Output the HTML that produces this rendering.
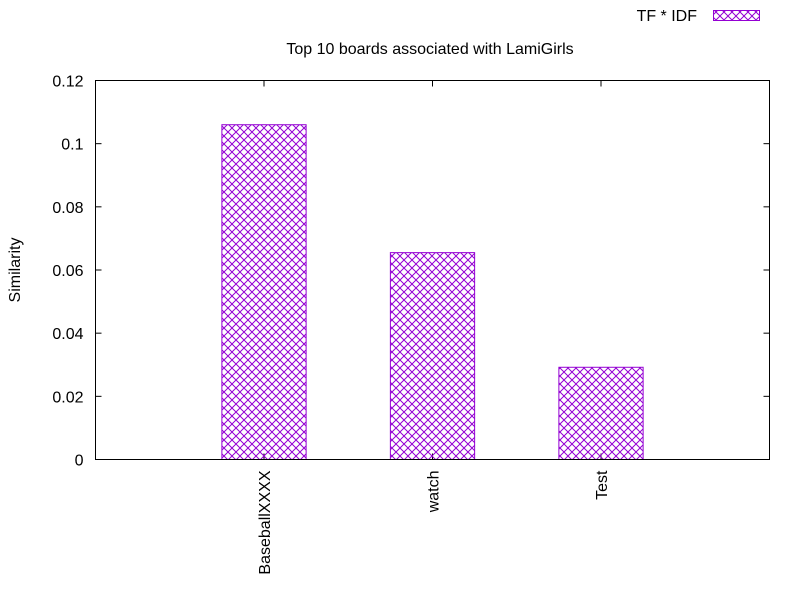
<!DOCTYPE html>
<html><head><meta charset="utf-8"><style>
body{margin:0;background:#fff}
svg text{font-family:"Liberation Sans",sans-serif;font-size:16px;fill:#000}
</style></head><body>
<svg id="chart" width="800" height="600" xmlns="http://www.w3.org/2000/svg">
<defs>
<pattern id="hatch" width="8" height="8" patternUnits="userSpaceOnUse">
<path d="M0,0 L8,8 M8,0 L0,8" stroke="#9400d3" stroke-width="1"/>
</pattern>
</defs>
<rect x="0" y="0" width="800" height="600" fill="#fff"/>
<text x="430" y="54" text-anchor="middle">Top 10 boards associated with LamiGirls</text>
<text x="20" y="270" text-anchor="middle" transform="rotate(-90 20 270)">Similarity</text>
<g>
<text x="697" y="21" text-anchor="end">TF * IDF</text>
<rect x="713.5" y="10.5" width="46" height="10" fill="url(#hatch)" stroke="#9400d3"/>
</g>
<g id="ticks"></g>
<g id="bars"></g>
<rect x="95.5" y="80.5" width="674" height="379" fill="none" stroke="#000"/>
</svg>
<script>
const categories=["BaseballXXXX","watch","Test"];
const values=[0.106,0.0655,0.0292];
const yTicks=[0,0.02,0.04,0.06,0.08,0.1,0.12];
const yTickLabels=["0","0.02","0.04","0.06","0.08","0.1","0.12"];
const L=95.5,R=769.5,T=80.5,B=459.5;
const yScale=v=>B-(v/0.12)*(B-T);
const xScale=i=>L+(i+1)/4*(R-L);
const NS="http://www.w3.org/2000/svg";
const tg=document.getElementById('ticks'),bg=document.getElementById('bars');
function mk(t,a){const e=document.createElementNS(NS,t);for(const k in a)e.setAttribute(k,a[k]);return e;}
yTicks.forEach((v,i)=>{
  const y=yScale(v);
  const l1=mk('line',{x1:L,x2:L+6,y1:y,y2:y,stroke:'#000'});
  
  
  tg.appendChild(l1);
  const l2=mk('line',{x1:R-6,x2:R,y1:y,y2:y,stroke:'#000'});
  
  
  tg.appendChild(l2);
  const t=mk('text',{x:L-12,y:y+6,'text-anchor':'end'});
  t.textContent=yTickLabels[i];
  
  
  tg.appendChild(t);
});
categories.forEach((c,i)=>{
  const cx=xScale(i);
  const l1=mk('line',{x1:cx,x2:cx,y1:B,y2:B-6,stroke:'#000'});
  
  
  tg.appendChild(l1);
  const l2=mk('line',{x1:cx,x2:cx,y1:T,y2:T+6,stroke:'#000'});
  
  
  tg.appendChild(l2);
  const w=(R-L)/4*0.5;
  const y=yScale(values[i]);
  const r=mk('rect',{x:cx-w/2,y:y,width:w,height:B-y,fill:'url(#hatch)',stroke:'#9400d3'});
  
  
  bg.appendChild(r);
  const t=mk('text',{x:cx+6,y:B+11,'text-anchor':'end',transform:`rotate(-90 ${cx+6} ${B+11})`});
  t.textContent=c;
  
  
  tg.appendChild(t);
});
</script>
</body></html>
